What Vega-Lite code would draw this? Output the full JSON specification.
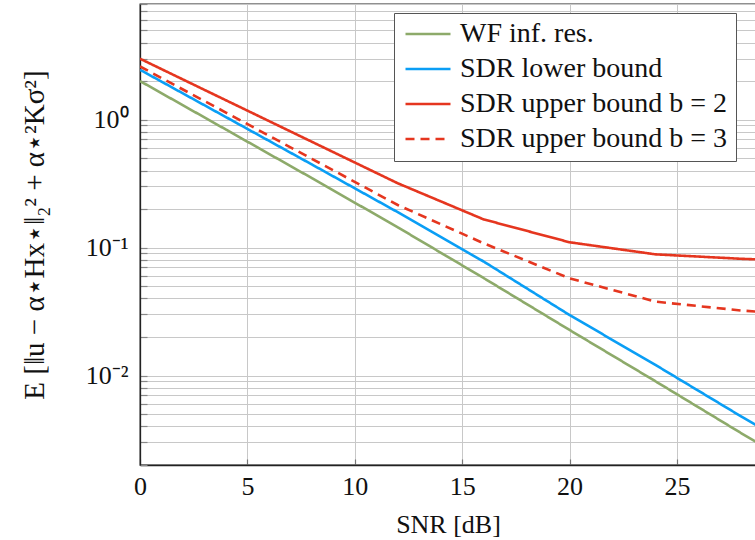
{
  "$schema": "https://vega.github.io/schema/vega-lite/v6.json",
  "width": 616,
  "height": 461,
  "autosize": {"type": "none"},
  "padding": {"left": 140, "top": 4, "right": 0, "bottom": 75},
  "background": "white",
  "config": {
    "font": "Liberation Serif",
    "view": {"stroke": "#222", "strokeWidth": 1.3},
    "axis": {"labelFont": "Liberation Serif", "titleFont": "Liberation Serif", "titleFontWeight": "normal", "labelColor": "#111", "titleColor": "#111"},
    "legend": {"labelFont": "Liberation Serif"}
  },
  "data": {"values": [
    {"snr": 0, "v": 2.0, "s": "WF inf. res."},
    {"snr": 4, "v": 0.836, "s": "WF inf. res."},
    {"snr": 8, "v": 0.349, "s": "WF inf. res."},
    {"snr": 12, "v": 0.144, "s": "WF inf. res."},
    {"snr": 16, "v": 0.0578, "s": "WF inf. res."},
    {"snr": 20, "v": 0.0227, "s": "WF inf. res."},
    {"snr": 24, "v": 0.00902, "s": "WF inf. res."},
    {"snr": 28, "v": 0.00354, "s": "WF inf. res."},
    {"snr": 28.68, "v": 0.00304, "s": "WF inf. res."},
    {"snr": 0, "v": 2.45, "s": "SDR lower bound"},
    {"snr": 4, "v": 1.046, "s": "SDR lower bound"},
    {"snr": 8, "v": 0.446, "s": "SDR lower bound"},
    {"snr": 12, "v": 0.189, "s": "SDR lower bound"},
    {"snr": 16, "v": 0.0778, "s": "SDR lower bound"},
    {"snr": 20, "v": 0.0297, "s": "SDR lower bound"},
    {"snr": 24, "v": 0.0121, "s": "SDR lower bound"},
    {"snr": 28, "v": 0.00478, "s": "SDR lower bound"},
    {"snr": 28.68, "v": 0.0041, "s": "SDR lower bound"},
    {"snr": 0, "v": 2.99, "s": "SDR upper bound b = 2"},
    {"snr": 4, "v": 1.416, "s": "SDR upper bound b = 2"},
    {"snr": 8, "v": 0.671, "s": "SDR upper bound b = 2"},
    {"snr": 12, "v": 0.318, "s": "SDR upper bound b = 2"},
    {"snr": 16, "v": 0.166, "s": "SDR upper bound b = 2"},
    {"snr": 20, "v": 0.11, "s": "SDR upper bound b = 2"},
    {"snr": 24, "v": 0.0885, "s": "SDR upper bound b = 2"},
    {"snr": 28, "v": 0.0817, "s": "SDR upper bound b = 2"},
    {"snr": 28.68, "v": 0.0809, "s": "SDR upper bound b = 2"},
    {"snr": 0, "v": 2.6, "s": "SDR upper bound b = 3"},
    {"snr": 4, "v": 1.135, "s": "SDR upper bound b = 3"},
    {"snr": 8, "v": 0.494, "s": "SDR upper bound b = 3"},
    {"snr": 12, "v": 0.215, "s": "SDR upper bound b = 3"},
    {"snr": 16, "v": 0.108, "s": "SDR upper bound b = 3"},
    {"snr": 20, "v": 0.0575, "s": "SDR upper bound b = 3"},
    {"snr": 24, "v": 0.0378, "s": "SDR upper bound b = 3"},
    {"snr": 28, "v": 0.0322, "s": "SDR upper bound b = 3"},
    {"snr": 28.68, "v": 0.0316, "s": "SDR upper bound b = 3"}
  ]},
  "mark": {"type": "line", "strokeWidth": 2.6, "clip": true},
  "encoding": {
    "x": {"field": "snr", "type": "quantitative",
      "scale": {"domain": [0, 28.68], "nice": false, "zero": false},
      "axis": {"orient": "bottom", "values": [0, 5, 10, 15, 20, 25], "grid": true, "gridColor": "#c8c8c8", "gridWidth": 1,
        "tickSize": -6, "tickColor": "#777", "tickWidth": 1.2, "domainColor": "#222", "domainWidth": 1.3, "labelFlush": false,
        "labelFontSize": 26, "labelPadding": 14, "title": "SNR [dB]", "titleFontSize": 26, "titlePadding": 12}},
    "y": {"field": "v", "type": "quantitative",
      "scale": {"type": "log", "domain": [0.002, 8], "nice": false},
      "axis": {"values": [0.002, 0.003, 0.004, 0.005, 0.006, 0.007, 0.008, 0.009, 0.01, 0.02, 0.03, 0.04, 0.05, 0.06, 0.07, 0.08, 0.09, 0.1, 0.2, 0.3, 0.4, 0.5, 0.6, 0.7, 0.8, 0.9, 1, 2, 3, 4, 5, 6, 7, 8],
        "labelExpr": "datum.value == 1 ? '10⁰' : datum.value == 0.1 ? '10⁻¹' : datum.value == 0.01 ? '10⁻²' : ''",
        "grid": true, "gridColor": "#c8c8c8", "gridWidth": 1, "tickSize": -7, "tickColor": "#888", "tickWidth": 1.2,
        "domainColor": "#222", "domainWidth": 1.3, "labelFontSize": 26, "labelPadding": 19, "labelBound": false, "labelOverlap": false, "labelFlush": false,
        "title": "E [‖u − α⋆Hx⋆‖₂² + α⋆²Kσ²]", "titleFontSize": 29, "titlePadding": 36}},
    "color": {"field": "s", "type": "nominal",
      "scale": {"domain": ["WF inf. res.", "SDR lower bound", "SDR upper bound b = 2", "SDR upper bound b = 3"],
        "range": ["#8DAA6A", "#0A9EF5", "#E5361F", "#E5361F"]},
      "legend": {"orient": "none", "legendX": 254, "legendY": 9, "title": null, "symbolType": "stroke", "symbolSize": 2025,
        "symbolStrokeWidth": 2.6, "labelFont": "Liberation Serif", "labelFontSize": 28, "labelColor": "#111", "labelLimit": 500, "labelOffset": 8,
        "padding": 8, "symbolOffset": 2, "clipHeight": 26, "rowPadding": 7, "strokeColor": "#555", "fillColor": "white", "cornerRadius": 0}},
    "strokeDash": {"field": "s", "type": "nominal",
      "scale": {"domain": ["WF inf. res.", "SDR lower bound", "SDR upper bound b = 2", "SDR upper bound b = 3"],
        "range": [[1, 0], [1, 0], [1, 0], [9, 6]]},
      "legend": null}
  }
}
